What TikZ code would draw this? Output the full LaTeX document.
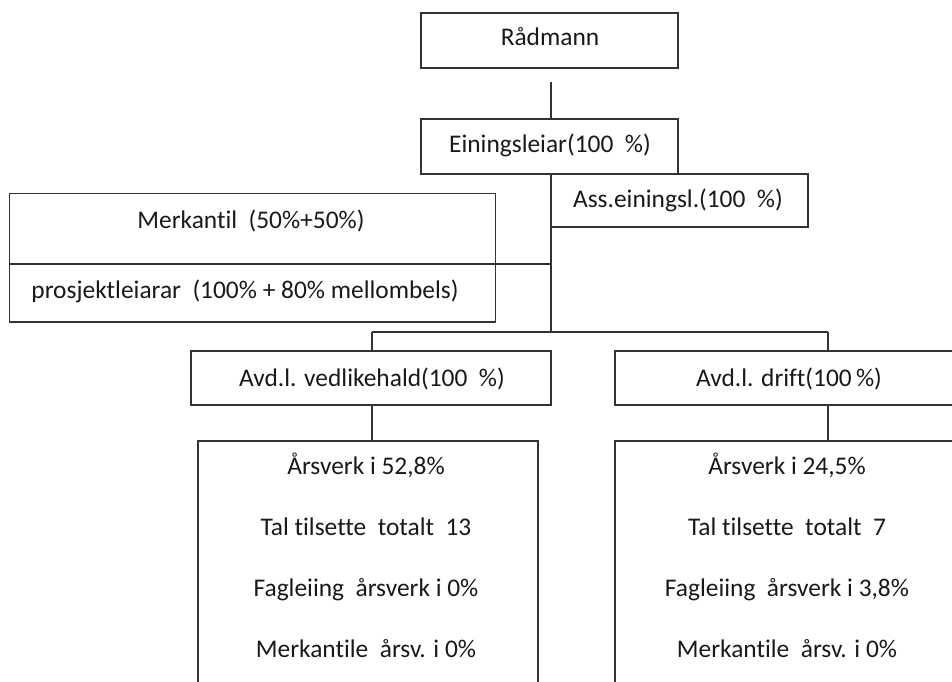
\documentclass[tikz,border=0pt]{standalone}
\usepackage{fontspec}
\setmainfont{Carlito}[Ligatures={NoCommon,NoContextual}]
\begin{document}
\begin{tikzpicture}[x=1bp,y=-1bp,
  line/.style={draw=black!80, line width=1.3bp},
  box/.style={line, rectangle, inner sep=0pt, outer sep=0pt, anchor=north west},
  lbl/.style={inner sep=0pt, font=\fontsize{25.5}{30}\selectfont, text=black!90,
    text height=16bp, text depth=0bp},
]
\useasboundingbox (0,0) rectangle (952,682);
\clip (0,0) rectangle (952,682);

% top of the chart
\node[box, minimum width=257bp, minimum height=55bp] (rad) at (421,13) {};
\node[lbl] (radT) at (550,37.5) {Rådmann};
\node[box, minimum width=257bp, minimum height=55bp] (ein) at (421,119) {};
\node[lbl] (einT) at (550,144.5) {Einingsleiar(100\ \ \%)};
\node[box, minimum width=257bp, minimum height=53bp] (ass) at (551,174) {};
\node[lbl] (assT) at (678,199.5) {Ass.einingsl.(100\ \ \%)};

% staff box with two rows
\node[box, minimum width=486bp, minimum height=70.5bp] (merk) at (9.5,193.5) {};
\node[box, minimum width=486bp, minimum height=58bp] (proj) at (9.5,264) {};
\node[lbl] (merkT) at (251,220) {Merkantil\ \ (50\%+50\%)};
\node[lbl] (projT) at (245,290) {prosjektleiarar\ \ (100\% + 80\% mellombels)};

% departments
\node[box, minimum width=360bp, minimum height=54bp] (ved) at (191,351) {};
\node[lbl] (vedT) at (372,378) {Avd.l. vedlikehald(100\ \ \%)};
\node[box, minimum width=360bp, minimum height=54bp] (drift) at (615,351) {};
\node[lbl] (driftT) at (789,378) {Avd.l. drift(100\,\%)};

% key figures per department
\node[box, minimum width=340bp, minimum height=300bp] (vedK) at (198,441) {};
\node[lbl] (v1) at (366,466) {Årsverk i 52,8\%};
\node[lbl] (v2) at (366,527) {Tal tilsette\ \ totalt\ \ 13};
\node[lbl] (v3) at (366,588) {Fagleiing\ \ årsverk i 0\%};
\node[lbl] (v4) at (366,649) {Merkantile\ \ årsv. i 0\%};

\node[box, minimum width=360bp, minimum height=300bp] (driftK) at (615,441) {};
\node[lbl] (d1) at (787,466) {Årsverk i 24,5\%};
\node[lbl] (d2) at (787,527) {Tal tilsette\ \ totalt\ \ 7};
\node[lbl] (d3) at (787,588) {Fagleiing\ \ årsverk i 3,8\%};
\node[lbl] (d4) at (787,649) {Merkantile\ \ årsv. i 0\%};

% connectors
\coordinate (radC) at (551,82);
\coordinate (spine) at (551,332);
\coordinate (vedC) at (372,332);
\coordinate (driftC) at (828,332);

\draw[line] (radC) -- (radC |- ein.north);
\draw[line] (ein.south -| radC) -- (spine);
\draw[line] (merk.south east) -- (merk.south east -| spine);
\draw[line] (vedC) -- (driftC);
\draw[line] (vedC) -- (vedC |- ved.north);
\draw[line] (driftC) -- (driftC |- drift.north);
\draw[line] (vedC |- ved.south) -- (vedC |- vedK.north);
\draw[line] (driftC |- drift.south) -- (driftC |- driftK.north);
\end{tikzpicture}
\end{document}
